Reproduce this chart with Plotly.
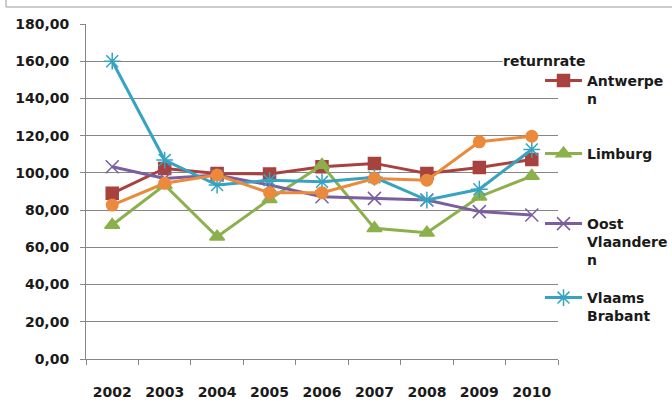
import plotly.graph_objects as go

years = ["2002", "2003", "2004", "2005", "2006", "2007", "2008", "2009", "2010"]
antwerpen = [89.0, 102.4, 99.7, 99.4, 103.3, 105.1, 99.7, 102.9, 107.2]
limburg = [72.0, 93.5, 65.7, 85.8, 104.2, 70.2, 67.9, 87.2, 98.3]
oost_vlaanderen = [103.3, 97.0, 98.8, 93.5, 87.2, 86.3, 85.4, 79.2, 77.4]
vlaams_brabant = [160.0, 106.9, 93.5, 96.0, 95.2, 97.6, 85.4, 91.2, 112.6]
west_vlaanderen = [82.7, 94.4, 98.8, 89.3, 89.3, 97.0, 96.1, 116.7, 119.7]

W, H = 672, 405
L, R, T, B = 86, 114, 24, 46
PW, PH = W - L - R, H - T - B

def px_x(px):
    return (px - L) / PW

def px_y(px):
    return 1 - (px - T) / PH

FONT = "DejaVu Sans"
series = [
    ("Antwerpe<br>n", antwerpen, "#A8423E", "square", 12, "legend"),
    ("Limburg", limburg, "#8BB04C", "triangle-up", 13, "legend2"),
    ("Oost<br>Vlaandere<br>n", oost_vlaanderen, "#7A5E9E", "x-thin-open", 13, "legend3"),
    ("Vlaams<br>Brabant", vlaams_brabant, "#36A3C0", "asterisk-open", 14, "legend4"),
]

fig = go.Figure()
for name, vals, col, sym, sz, lg in series:
    fig.add_trace(go.Scatter(
        x=years, y=vals, name=name, mode="lines+markers",
        line=dict(color=col, width=3),
        marker=dict(symbol=sym, size=sz, color=col, line=dict(color=col, width=1.5)),
        legend=lg,
    ))
fig.add_trace(go.Scatter(
    x=years, y=west_vlaanderen, name="West Vlaanderen", mode="lines+markers",
    line=dict(color="#EB8A3C", width=3),
    marker=dict(symbol="circle", size=13, color="#EB8A3C"),
    showlegend=False,
))

legend_tops = [65, 138, 208, 282]
legend_common = dict(
    xref="container", yref="container",
    x=540 / W, xanchor="left", yanchor="top", valign="top",
    itemwidth=37,
    bgcolor="rgba(0,0,0,0)", borderwidth=0,
    font=dict(family=FONT, size=14, color="#1a1a1a", weight="bold"),
)
layout_legends = {}
for i, top in enumerate(legend_tops):
    key = "legend" if i == 0 else f"legend{i+1}"
    layout_legends[key] = dict(legend_common, y=1 - top / H)

fig.update_layout(
    width=W, height=H, autosize=False,
    margin=dict(l=L, r=R, t=T, b=B, autoexpand=False),
    paper_bgcolor="white", plot_bgcolor="white",
    separators=", ",
    font=dict(family=FONT, size=14, color="#1a1a1a", weight="bold"),
    xaxis=dict(
        type="category", range=[-0.5, 8.5], tickson="boundaries",
        ticks="outside", ticklen=5, tickcolor="#868686",
        showline=True, linecolor="#868686", linewidth=1,
        showgrid=False, ticklabelstandoff=20, automargin=False,
        tickfont=dict(family=FONT, size=14, color="#1a1a1a", weight="bold"),
    ),
    yaxis=dict(
        range=[0, 180], dtick=20, tickformat=".2f",
        ticks="outside", ticklen=5, tickcolor="#868686",
        showline=True, linecolor="#868686", linewidth=1,
        showgrid=True, gridcolor="#868686", gridwidth=1,
        zeroline=False, ticklabelstandoff=8, automargin=False,
        tickfont=dict(family=FONT, size=14, color="#1a1a1a", weight="bold"),
    ),
    annotations=[dict(
        text="returnrate", xref="paper", yref="paper",
        x=px_x(502), y=px_y(61), xanchor="left", yanchor="middle",
        showarrow=False, bgcolor="white", borderpad=0,
        font=dict(family=FONT, size=14, color="#1a1a1a", weight="bold"),
    )],
    shapes=[dict(
        type="path", xref="paper", yref="paper",
        path=f"M {px_x(6)} {px_y(-50)} L {px_x(6)} {px_y(7)} L {px_x(700)} {px_y(7)}",
        line=dict(color="#9a9a9a", width=1),
    )],
    **layout_legends,
)

fig.write_html(
    "out.html",
    config={"displayModeBar": False},
    post_script="document.body.style.margin='0';document.body.style.padding='0';",
)
